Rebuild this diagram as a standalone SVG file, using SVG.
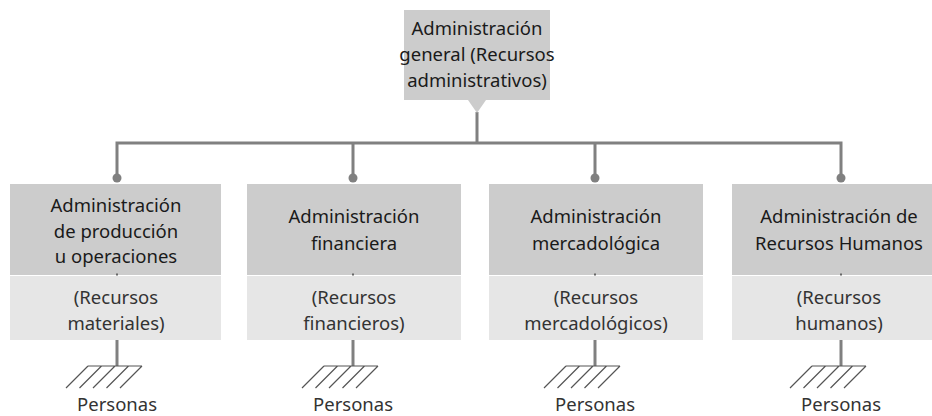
<svg xmlns="http://www.w3.org/2000/svg" width="932" height="416" viewBox="0 0 932 416">
<style>
.t{font-family:"Noto Sans","DejaVu Sans",sans-serif;font-size:18.5px;fill:#1a1a1a;text-anchor:middle}
.l{font-family:"Noto Sans","DejaVu Sans",sans-serif;font-size:18.5px;fill:#333;text-anchor:middle}
.top{fill:#cccccc}
.low{fill:#e6e6e6}
.conn{fill:none;stroke:#808080;stroke-width:3}
.dot{fill:#808080}
.gnd{fill:none;stroke:#555;stroke-width:1.2}
.tick{stroke:#666;stroke-width:2}
</style>
<defs>
<g id="ground">
<path class="conn" d="M0,0 V26"/>
<path class="gnd" d="M-29,26 H25 M-29,26 L-51,48 M-15.5,26 L-37.5,48 M-2,26 L-24,48 M11.5,26 L-10.5,48 M25,26 L3,48"/>
</g>
</defs>
<g id="connectors">
<path class="conn" d="M477,112 V143 M117,178 V143 H841 V178 M353,143 V178 M595,143 V178"/>
<circle class="dot" cx="117" cy="178" r="4.5"/>
<circle class="dot" cx="353" cy="178" r="4.5"/>
<circle class="dot" cx="595" cy="178" r="4.5"/>
<circle class="dot" cx="841" cy="178" r="4.5"/>
</g>
<g id="root">
<rect class="top" x="404" y="10" width="146" height="90"/>
<path class="top" d="M468,100 L486,100 L477,113 Z"/>
<text class="t" x="477" y="35">Administración</text>
<text class="t" x="477" y="61">general (Recursos</text>
<text class="t" x="477" y="87">administrativos)</text>
</g>
<g id="n1">
<rect class="top" x="10" y="184" width="211" height="91"/>
<rect class="low" x="10" y="276" width="211" height="64"/>
<line class="tick" x1="116" y1="274.5" x2="118" y2="274.5"/>
<text class="t" x="116" y="212">Administración</text>
<text class="t" x="116" y="238">de producción</text>
<text class="t" x="116" y="263">u operaciones</text>
<text class="l" x="116" y="304">(Recursos</text>
<text class="l" x="116" y="330">materiales)</text>
<use href="#ground" x="117" y="340"/>
<text class="l" x="117" y="411">Personas</text>
</g>
<g id="n2">
<rect class="top" x="247" y="184" width="214" height="91"/>
<rect class="low" x="247" y="276" width="214" height="64"/>
<line class="tick" x1="352" y1="274.5" x2="354" y2="274.5"/>
<text class="t" x="354" y="223">Administración</text>
<text class="t" x="354" y="250">financiera</text>
<text class="l" x="354" y="304">(Recursos</text>
<text class="l" x="354" y="330">financieros)</text>
<use href="#ground" x="353" y="340"/>
<text class="l" x="353" y="411">Personas</text>
</g>
<g id="n3">
<rect class="top" x="489" y="184" width="214" height="91"/>
<rect class="low" x="489" y="276" width="214" height="64"/>
<line class="tick" x1="594" y1="274.5" x2="596" y2="274.5"/>
<text class="t" x="596" y="223">Administración</text>
<text class="t" x="596" y="250">mercadológica</text>
<text class="l" x="596" y="304">(Recursos</text>
<text class="l" x="596" y="330">mercadológicos)</text>
<use href="#ground" x="595" y="340"/>
<text class="l" x="595" y="411">Personas</text>
</g>
<g id="n4">
<rect class="top" x="732" y="184" width="214" height="91"/>
<rect class="low" x="732" y="276" width="214" height="64"/>
<line class="tick" x1="840" y1="274.5" x2="842" y2="274.5"/>
<text class="t" x="839" y="223">Administración de</text>
<text class="t" x="839" y="250">Recursos Humanos</text>
<text class="l" x="839" y="304">(Recursos</text>
<text class="l" x="839" y="330">humanos)</text>
<use href="#ground" x="841" y="340"/>
<text class="l" x="841" y="411">Personas</text>
</g>
</svg>
